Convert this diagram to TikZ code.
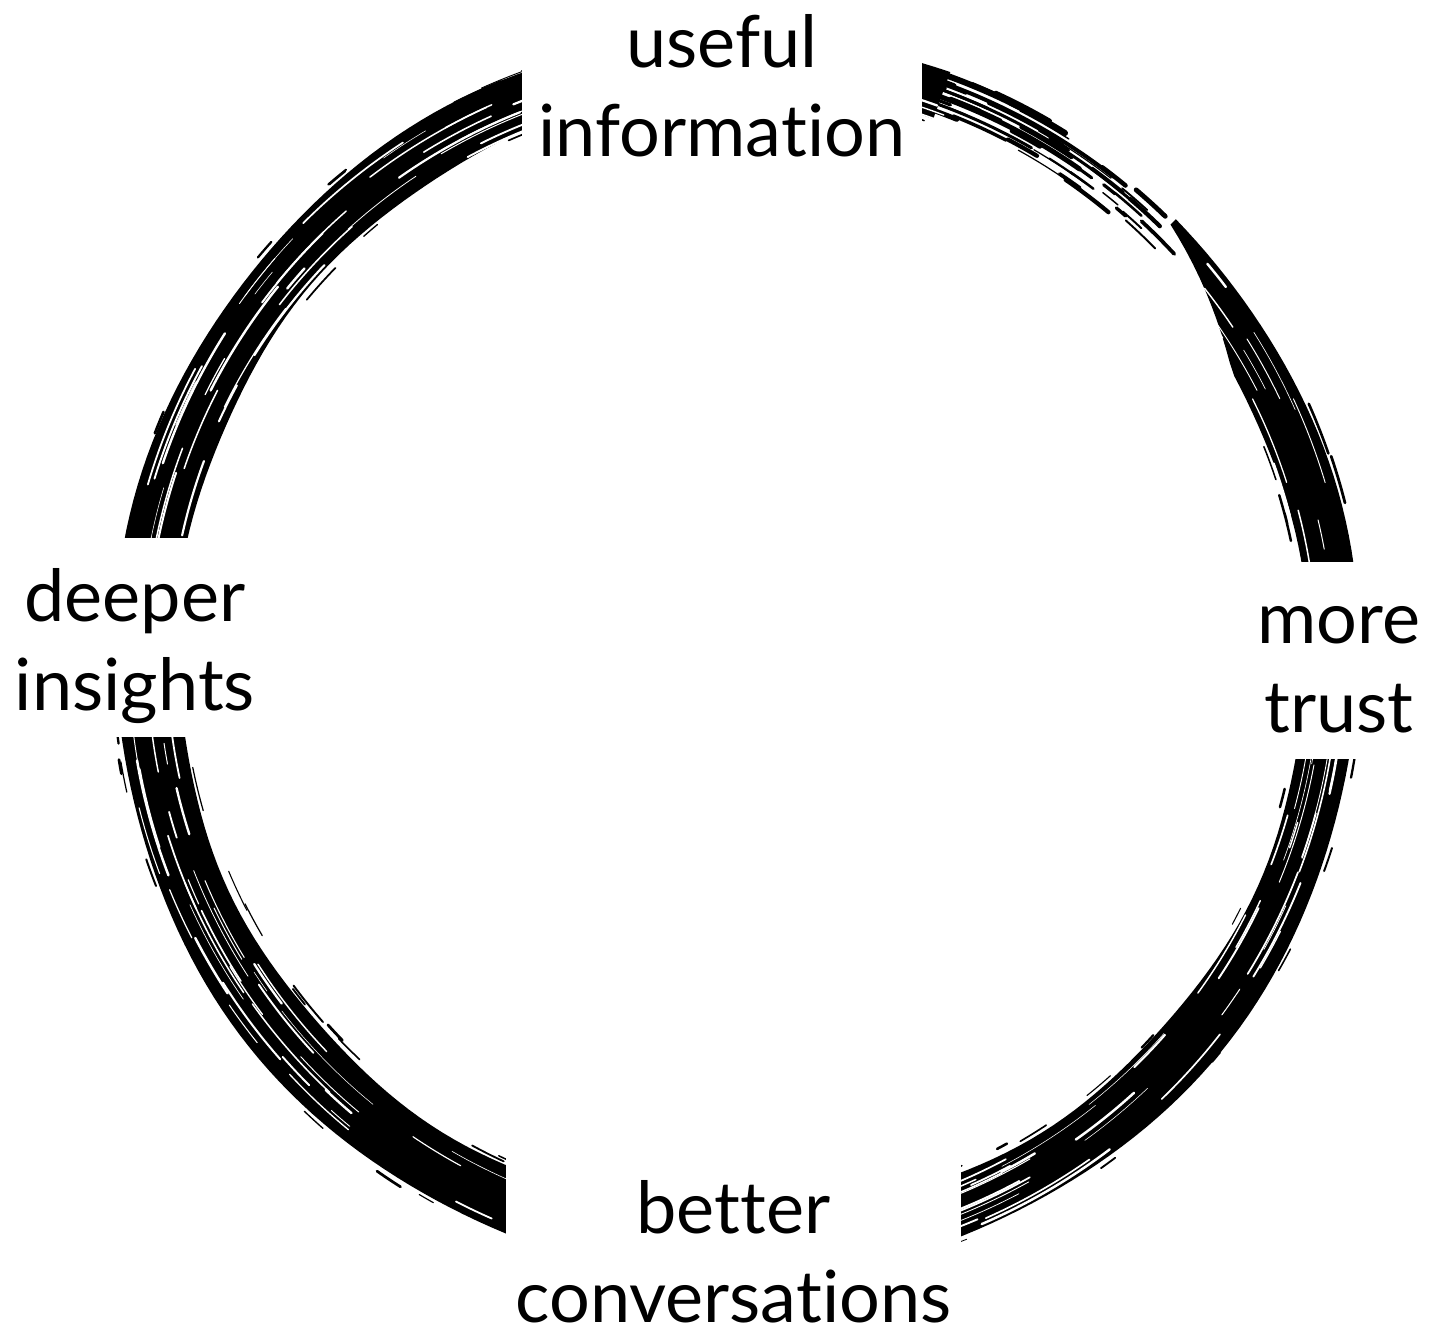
\documentclass[tikz,border=0pt]{standalone}
\usepackage{fontspec}
\setmainfont[Ligatures=NoCommon]{Lato}

\begin{document}
\begin{tikzpicture}[
    x=1pt, y=1pt,
    brush/.style={fill=black},
    streak/.style={draw=white, line cap=round},
    fleck/.style={draw=black, line cap=round},
    phase/.style={fill=white, inner sep=0pt, align=center, anchor=base,
        font=\fontsize{72}{89}\selectfont}
]
\useasboundingbox (0,0) rectangle (1438,1334);

% Brush ring
\begin{scope}[shift={(737,676)}]
\fill[brush] plot[domain=45:-290, samples=240] (\x:{622+2*sin(7*\x)})
    -- plot[domain=-290:45, samples=240]
       (\x:{565-8*cos(\x+130)+1.5*sin(11*\x)+max(0,\x-30)*2.6}) -- cycle;

% dry tail at the top right
\foreach \r/\e/\w in {619/58/6, 611/52/4, 604/49/3, 597/55/5, 589/60/3}
    \draw[fleck, line width=\w] (74:\r) arc[start angle=74, end angle=\e, radius=\r];
\pgfmathsetseed{5}
\foreach \k in {1,...,45}{
    \pgfmathsetmacro\sa{74-rnd*27}
    \pgfmathsetmacro\ea{\sa-1-rnd*5}
    \pgfmathsetmacro\rr{578+rnd*44}
    \pgfmathsetmacro\lw{1+rnd*4}
    \draw[fleck, line width=\lw] (\sa:\rr) arc[start angle=\sa, end angle=\ea, radius=\rr];
}

% white streaks in the stroke
\pgfmathsetseed{11}
\foreach \k in {1,...,170}{
    \pgfmathsetmacro\sa{40-rnd*330}
    \pgfmathsetmacro\ea{\sa-2-rnd*12}
    \pgfmathsetmacro\rr{568+rnd*50}
    \pgfmathsetmacro\lw{0.5+rnd*2}
    \draw[streak, line width=\lw] (\sa:\rr) arc[start angle=\sa, end angle=\ea, radius=\rr];
}

% flecks along the edges
\foreach \k in {1,...,70}{
    \pgfmathsetmacro\sa{28-rnd*318}
    \pgfmathsetmacro\ea{\sa-1-rnd*4}
    \pgfmathsetmacro\rr{rnd<0.5 ? 563-8*cos(\sa+130)-rnd*6 : 623+rnd*5}
    \pgfmathsetmacro\lw{0.8+rnd*2}
    \draw[fleck, line width=\lw] (\sa:\rr) arc[start angle=\sa, end angle=\ea, radius=\rr];
}
\end{scope}

% Phases of the cycle
\node[phase, text height=155pt, text depth=3pt, minimum width=400pt] (info) at (722,1177) {useful\\information};
\node[phase, text height=171pt, text depth=26pt, minimum width=198pt] (trust) at (1339,601) {more\\trust};
\node[phase, text height=172pt, text depth=8pt, minimum width=455pt] (talk) at (733.5,12) {better\\conversations};
\node[phase, text height=173pt, text depth=26pt, minimum width=270pt] (insight) at (135,623) {deeper\\insights};

\end{tikzpicture}
\end{document}
